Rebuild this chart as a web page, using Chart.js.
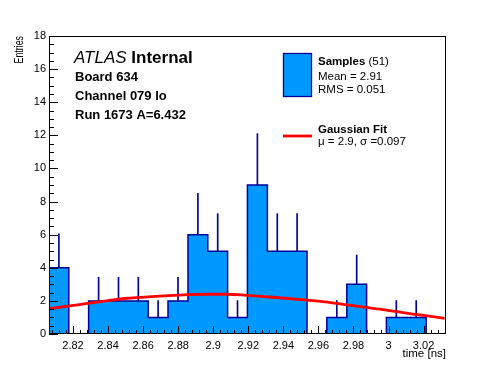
<!DOCTYPE html>
<html>
<head>
<meta charset="utf-8">
<script src="https://cdn.jsdelivr.net/npm/chart.js@4/dist/chart.umd.min.js"></script>
<style>
  html, body { margin: 0; padding: 0; background: #fff; }
  canvas { display: block; }
</style>
</head>
<body>
<canvas id="histo" width="496" height="372"></canvas>
<script>
// histogram bins (edges), counts and upper error bar ends
const binEdges = [2.8063, 2.8176, 2.8289, 2.8403, 2.8516, 2.8629, 2.8742, 2.8856, 2.8969, 2.9082,
                  2.9195, 2.9309, 2.9422, 2.9535, 2.9648, 2.9762, 2.9875, 2.9988, 3.0101, 3.0215, 3.0328];
const counts = [4, 0, 2, 2, 2, 1, 2, 6, 5, 1, 9, 5, 5, 0, 1, 3, 0, 1, 1, 0];
const errTop = [6.05, 0, 3.43, 3.43, 3.43, 2.02, 3.43, 8.5, 7.27, 2.02, 12.1, 7.27, 7.27, 0, 2.02, 4.77, 0, 2.02, 2.02, 0];

// gaussian fit curve, read point by point
const fitX = [2.807, 2.817, 2.829, 2.840, 2.851, 2.863, 2.874, 2.886, 2.897, 2.908, 2.918,
              2.929, 2.941, 2.952, 2.964, 2.975, 2.986, 2.998, 3.009, 3.021, 3.032];
const fitY = [1.54, 1.68, 1.86, 2.02, 2.16, 2.24, 2.32, 2.38, 2.40, 2.40, 2.35,
              2.26, 2.16, 2.06, 1.94, 1.78, 1.62, 1.46, 1.28, 1.11, 0.95];

const xMajorTicks = [2.82, 2.84, 2.86, 2.88, 2.9, 2.92, 2.94, 2.96, 2.98, 3.0, 3.02];
const yMajorTicks = [0, 2, 4, 6, 8, 10, 12, 14, 16, 18];
const xMinorStep = 0.004;
const yMinorStep = 0.5;

const headerLines = ['Board 634', 'Channel 079 lo', 'Run 1673 A=6.432'];
const legendSamples = ['Samples', '(51)', 'Mean = 2.91', 'RMS = 0.051'];
const legendFit = ['Gaussian Fit', '\u03bc = 2.9, \u03c3 =0.097'];

const FONT = '"Liberation Sans", Arial, Helvetica, sans-serif';
const FILL = '#0099ff';
const NAVY = '#000099';

const isMajor = (v, list) => list.some(m => Math.abs(m - v) < 1e-6);

function minorTicks(majors, step, lo, hi) {
  const out = [];
  let v = majors[0];
  while (v - step >= lo - 1e-9) v -= step;
  for (; v <= hi + 1e-9; v += step) out.push({ value: +v.toFixed(4) });
  return out;
}

const histPoints = counts.map((c, i) => ({ x: binEdges[i], y: c }));
histPoints.push({ x: binEdges[binEdges.length - 1], y: counts[counts.length - 1] });

const errPoints = [];
counts.forEach((c, i) => {
  if (c > 0) errPoints.push({ x: (binEdges[i] + binEdges[i + 1]) / 2, y: [c, errTop[i]] });
});

const fitPoints = fitX.map((x, i) => ({ x, y: fitY[i] }));

// ROOT style frame with inward ticks
const framePlugin = {
  id: 'frame',
  afterDatasetsDraw(chart) {
    const { ctx, chartArea: a, scales: { x, y } } = chart;
    ctx.save();
    ctx.strokeStyle = '#000';
    ctx.lineWidth = 1;
    ctx.beginPath();
    x.ticks.forEach(t => {
      const px = Math.round(x.getPixelForValue(t.value)) + 0.5;
      const len = isMajor(t.value, xMajorTicks) ? 8 : 4;
      ctx.moveTo(px, a.bottom);
      ctx.lineTo(px, a.bottom - len);
    });
    y.ticks.forEach(t => {
      const py = Math.round(y.getPixelForValue(t.value)) + 0.5;
      const len = isMajor(t.value, yMajorTicks) ? 9 : 5;
      ctx.moveTo(a.left, py);
      ctx.lineTo(a.left + len, py);
    });
    ctx.stroke();
    ctx.strokeRect(a.left + 0.5, a.top + 0.5, a.right - a.left - 1, a.bottom - a.top - 1);
    ctx.restore();
  }
};

const textPlugin = {
  id: 'texts',
  afterDraw(chart) {
    const { ctx } = chart;
    ctx.save();
    ctx.fillStyle = '#000';
    ctx.textBaseline = 'alphabetic';

    // ATLAS label
    ctx.font = 'italic 17px ' + FONT;
    ctx.fillText('ATLAS', 74, 63);
    const w = ctx.measureText('ATLAS ').width;
    ctx.font = 'bold 17px ' + FONT;
    ctx.fillText('Internal', 74 + w, 63);

    ctx.font = 'bold 13px ' + FONT;
    headerLines.forEach((s, i) => ctx.fillText(s, 75, 81 + i * 19));

    // legend
    ctx.fillStyle = FILL;
    ctx.fillRect(283.5, 53.5, 28, 43);
    ctx.strokeStyle = NAVY;
    ctx.lineWidth = 1.3;
    ctx.strokeRect(283.5, 53.5, 28, 43);

    ctx.fillStyle = '#000';
    ctx.font = 'bold 11.5px ' + FONT;
    ctx.fillText(legendSamples[0], 318, 65);
    const sw = ctx.measureText(legendSamples[0] + ' ').width;
    ctx.font = '11.5px ' + FONT;
    ctx.fillText(legendSamples[1], 318 + sw, 65);
    ctx.fillText(legendSamples[2], 318, 80);
    ctx.fillText(legendSamples[3], 318, 93);

    ctx.strokeStyle = '#ff0000';
    ctx.lineWidth = 2.8;
    ctx.beginPath();
    ctx.moveTo(283, 136);
    ctx.lineTo(312, 136);
    ctx.stroke();

    ctx.font = 'bold 11.5px ' + FONT;
    ctx.fillText(legendFit[0], 318, 132.5);
    ctx.font = '11.5px ' + FONT;
    ctx.fillText(legendFit[1], 318, 145);

    // axis titles
    ctx.font = '11.5px ' + FONT;
    ctx.textAlign = 'right';
    ctx.fillText('time [ns]', 446, 357);

    ctx.save();
    ctx.translate(22.5, 36);
    ctx.rotate(-Math.PI / 2);
    ctx.font = '12.5px ' + FONT;
    const ew = ctx.measureText('Entries').width;
    ctx.scale(27.5 / ew, 1);
    ctx.textAlign = 'right';
    ctx.fillText('Entries', 0, 0);
    ctx.restore();

    ctx.restore();
  }
};

new Chart(document.getElementById('histo'), {
  type: 'line',
  data: {
    datasets: [
      {
        label: 'Samples',
        data: histPoints,
        stepped: true,
        fill: 'origin',
        backgroundColor: FILL,
        borderColor: NAVY,
        borderWidth: 1.5,
        pointRadius: 0,
        order: 3
      },
      {
        type: 'bar',
        label: 'errors',
        data: errPoints,
        backgroundColor: NAVY,
        borderWidth: 0,
        barThickness: 1,
        order: 2
      },
      {
        label: 'Gaussian Fit',
        data: fitPoints,
        borderColor: '#ff0000',
        borderWidth: 2.8,
        pointRadius: 0,
        cubicInterpolationMode: 'monotone',
        fill: false,
        order: 1
      }
    ]
  },
  options: {
    responsive: false,
    animation: false,
    layout: { padding: { left: 0, top: 36, right: 50, bottom: 0 } },
    plugins: { legend: { display: false }, tooltip: { enabled: false } },
    scales: {
      x: {
        type: 'linear',
        min: binEdges[0],
        max: binEdges[binEdges.length - 1],
        offset: false,
        grid: { display: true, drawOnChartArea: false, drawTicks: false },
        border: { display: false },
        afterBuildTicks(scale) {
          scale.ticks = minorTicks(xMajorTicks, xMinorStep, scale.min, scale.max);
        },
        afterFit(scale) { scale.height = 38; },
        ticks: {
          autoSkip: false,
          maxRotation: 0,
          padding: 5,
          color: '#000',
          font: { family: FONT, size: 11 },
          callback: v => isMajor(v, xMajorTicks) ? String(+v.toFixed(3)) : ''
        }
      },
      y: {
        type: 'linear',
        min: 0,
        max: 18,
        grid: { display: true, drawOnChartArea: false, drawTicks: false },
        border: { display: false },
        afterBuildTicks(scale) {
          scale.ticks = minorTicks(yMajorTicks, yMinorStep, 0, 18);
        },
        afterFit(scale) { scale.width = 49; },
        ticks: {
          autoSkip: false,
          padding: 3,
          color: '#000',
          font: { family: FONT, size: 11 },
          callback: v => isMajor(v, yMajorTicks) ? String(v) : ''
        }
      }
    }
  },
  plugins: [framePlugin, textPlugin]
});
</script>
</body>
</html>
